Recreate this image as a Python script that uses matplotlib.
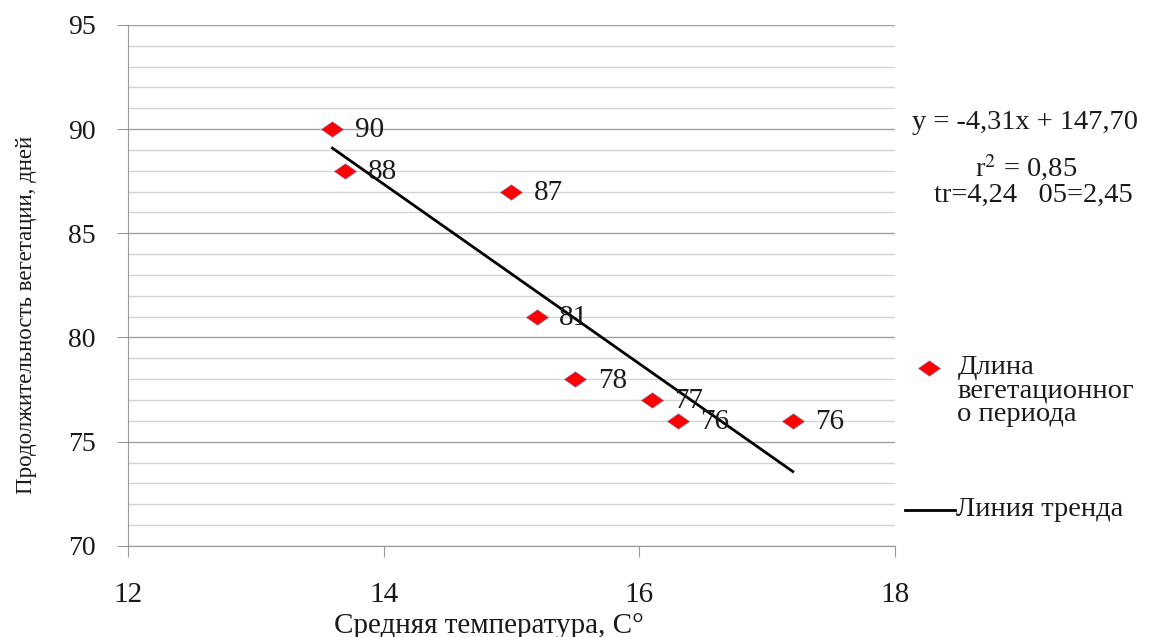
import matplotlib
matplotlib.use('Agg')
import numpy as np
from matplotlib import pyplot as plt
from matplotlib.lines import Line2D

temps = [13.6, 13.7, 15.0, 15.2, 15.5, 16.1, 16.3, 17.2]
days = [90, 88, 87, 81, 78, 77, 76, 76]
point_labels = ['90', '88', '87', '81', '78', '77', '76', '76']

slope = -4.31
intercept = 147.70
eq_text = 'y = -4,31x + 147,70'
r2_text = 'r$^2$ = 0,85'
t_text = 'tr=4,24   05=2,45'

x_ticks = [12, 14, 16, 18]
y_ticks = [70, 75, 80, 85, 90, 95]

plt.rcParams['font.family'] = ['Liberation Serif', 'DejaVu Serif']
plt.rcParams['mathtext.fontset'] = 'stix'

# flattened diamond like the office chart marker
diamond = [(-1, 0), (0, 0.7), (1, 0), (0, -0.7), (-1, 0)]
mk_size = 16
txt_col = '#1a1a1a'

fig = plt.figure(figsize=(11.52, 6.37), dpi=100)
ax = fig.add_axes([0.111, 0.143, 0.666, 0.818])

ax.set_xlim(12, 18)
ax.set_ylim(70, 95)
ax.set_yticks(y_ticks)
ax.set_yticks(np.arange(70, 96, 1), minor=True)
ax.set_xticks(x_ticks)

ax.grid(True, axis='y', which='minor', color='#d4d4d4', linewidth=1.0)
ax.grid(True, axis='y', which='major', color='#a0a0a0', linewidth=1.0)
ax.set_axisbelow(True)

for s in ['top', 'right']:
    ax.spines[s].set_visible(False)
for s in ['left', 'bottom']:
    ax.spines[s].set_color('#9a9a9a')
ax.tick_params(axis='y', which='major', length=8, color='#9a9a9a', labelsize=20,
               pad=15, labelcolor=txt_col)
ax.tick_params(axis='y', which='minor', length=0)
ax.tick_params(axis='x', which='major', length=8, color='#9a9a9a', labelsize=21,
               pad=18, labelcolor=txt_col)

tx = np.array([min(temps), max(temps)])
ax.plot(tx, slope * tx + intercept, color='black', linewidth=2)

ax.plot(temps, days, linestyle='none', marker=diamond, markersize=mk_size,
        color='#ff0000', markeredgecolor='#8080c0', markeredgewidth=0.4, zorder=3)
for x, y, lab in zip(temps, days, point_labels):
    ax.annotate(lab, (x, y), xytext=(16, -1), textcoords='offset points',
                fontsize=21, va='center', ha='left', color=txt_col)

ax.set_xlabel('Средняя температура, С°', fontsize=21, color=txt_col)
ax.xaxis.set_label_coords(0.471, -0.128)
ax.set_ylabel('Продолжительность вегетации, дней', fontsize=16.5, color=txt_col)
ax.yaxis.set_label_coords(-0.118, 0.443)

fig.text(0.792, 0.807, eq_text, fontsize=20.5, ha='left', va='center', color=txt_col)
fig.text(0.891, 0.736, r2_text, fontsize=20.5, ha='center', va='center', color=txt_col)
fig.text(0.897, 0.694, t_text, fontsize=20.5, ha='center', va='center', color=txt_col)

# legend drawn by hand at the right
fig.add_artist(Line2D([0.806], [0.422], linestyle='none', marker=diamond, markersize=mk_size,
                      color='#ff0000', markeredgecolor='#8080c0', markeredgewidth=0.4,
                      transform=fig.transFigure))
fig.text(0.831, 0.443, 'Длина\nвегетационног\nо периода', fontsize=20.5, ha='left',
         va='top', linespacing=0.93, color=txt_col)
fig.add_artist(Line2D([0.786, 0.829], [0.200, 0.200], color='black', linewidth=2,
                      transform=fig.transFigure))
fig.text(0.830, 0.200, 'Линия тренда', fontsize=20.5, ha='left', va='center',
         color=txt_col)

fig.savefig('out.png', dpi=100)
